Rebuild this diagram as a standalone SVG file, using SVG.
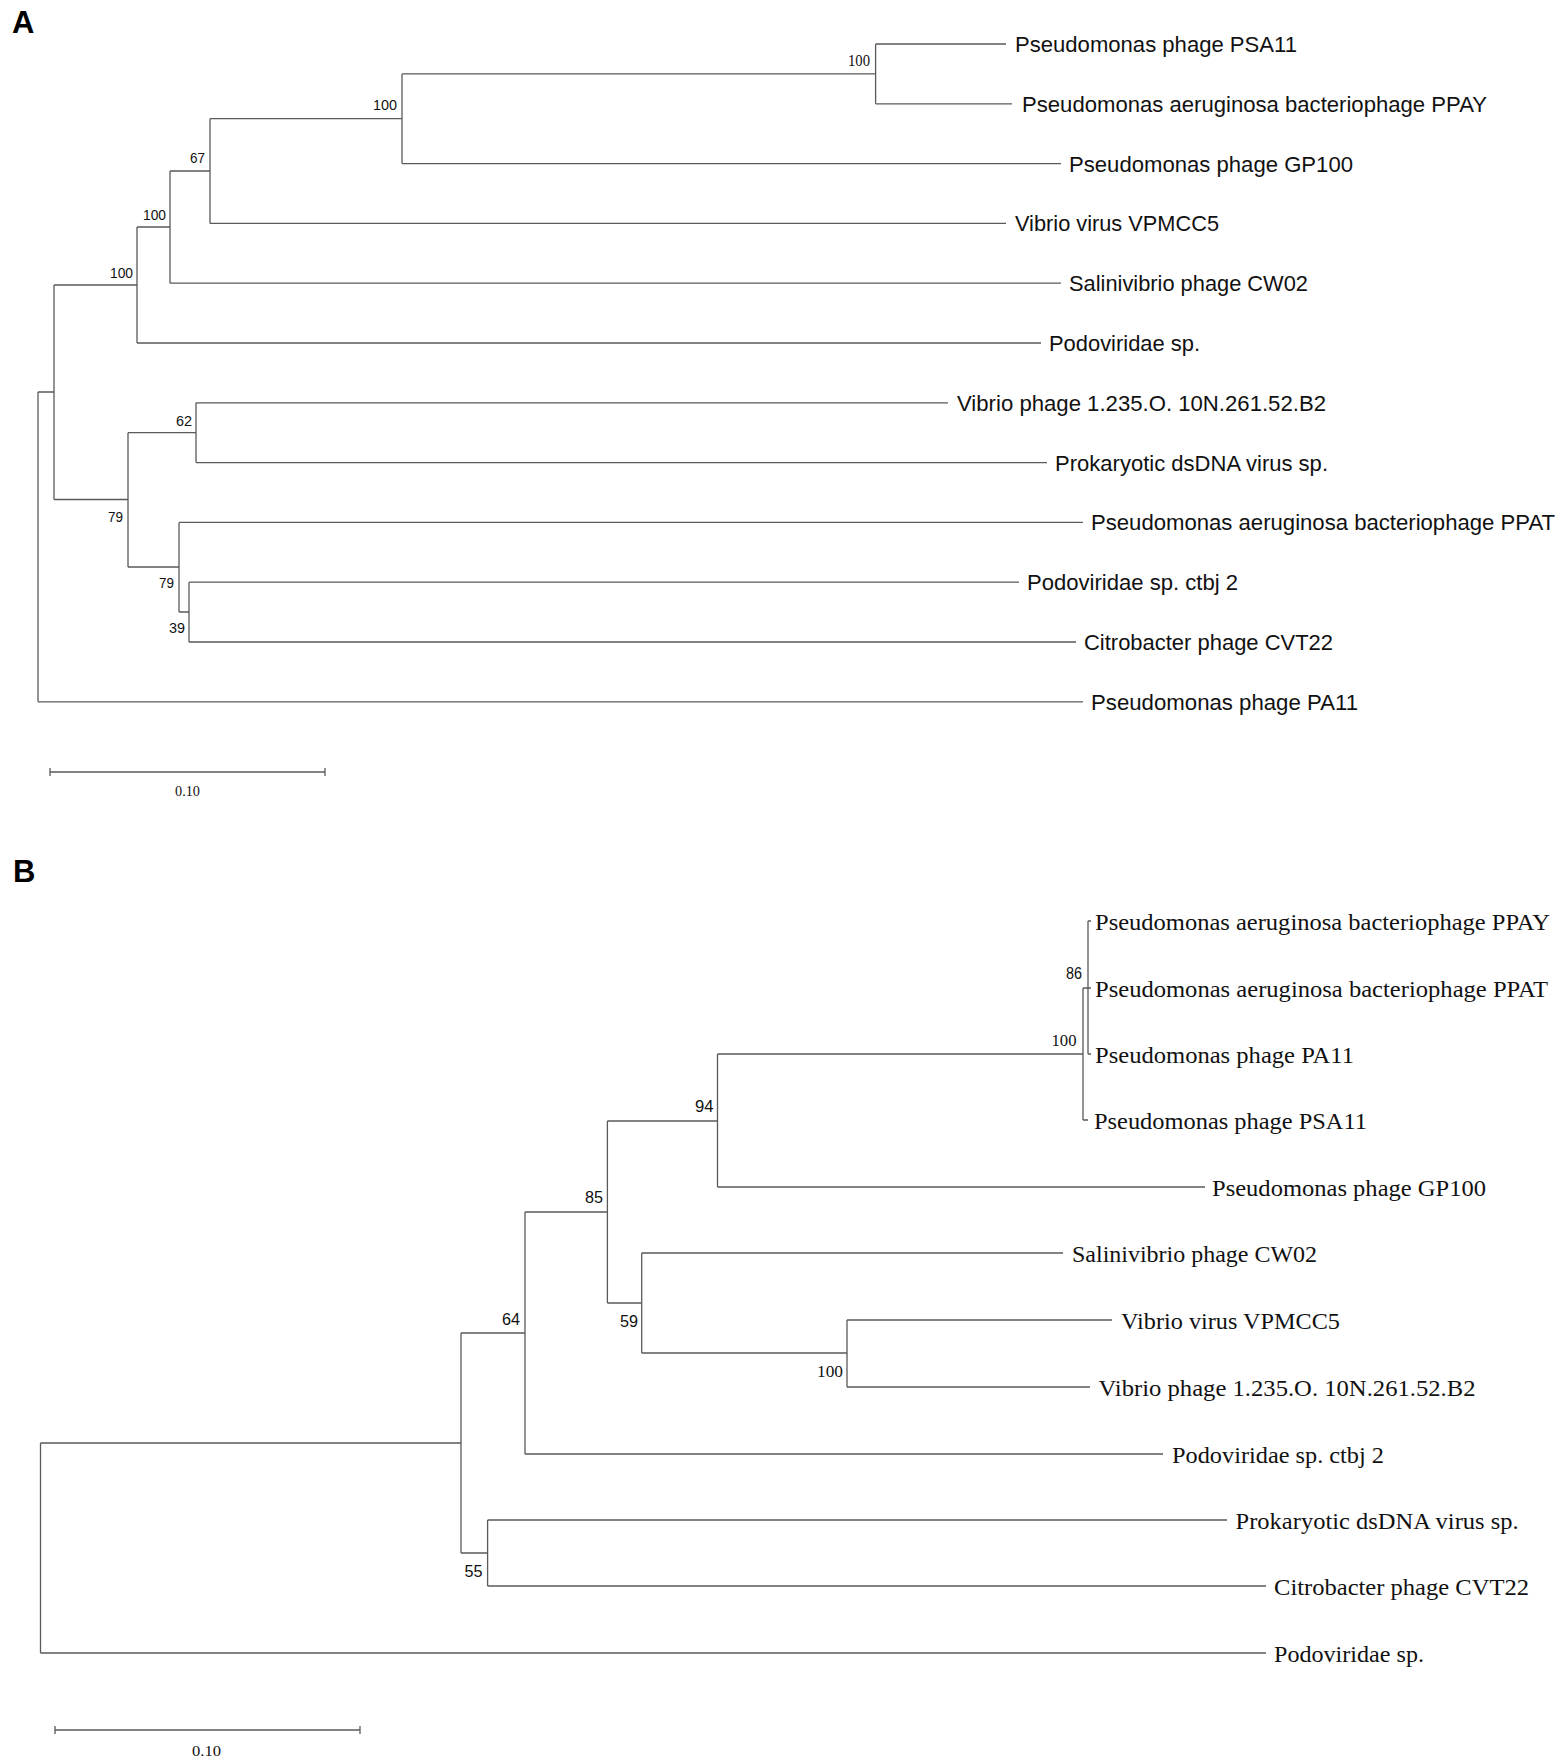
<svg xmlns="http://www.w3.org/2000/svg" width="1562" height="1762" viewBox="0 0 1562 1762">
<style>
.br{fill:none;stroke:#5a5a5a;stroke-width:1.3}
.la{font-family:"Liberation Sans",Arial,sans-serif;font-size:22px;fill:#111}
.lb{font-family:"Liberation Serif","Times New Roman",serif;font-size:23.5px;fill:#111}
.bs{font-family:"Liberation Sans",Arial,sans-serif;font-size:15px;fill:#111}
.bsb{font-family:"Liberation Sans",Arial,sans-serif;font-size:16px;fill:#111}
.bss{font-family:"Liberation Serif","Times New Roman",serif;font-size:16px;fill:#111}
.pan{font-family:"Liberation Sans",Arial,sans-serif;font-size:31px;font-weight:bold;fill:#000}
.sc{font-family:"Liberation Serif","Times New Roman",serif;font-size:15px;fill:#111}
</style>
<rect width="1562" height="1762" fill="#fff"/>
<text class="pan" x="12" y="33">A</text>
<text class="pan" x="13" y="882">B</text>

<g id="connectors">
<g id="treeA-branches" class="br">
<path d="M875.6,44V103.8M402,73.9V163.6M210,118.7V223.4M170,171V283.2M137,227V343M54,285V499.5M128,432.7V567M196,402.8V462.6M179,522.4V612M189,582.2V642M38,392V701.8"/>
<path d="M402,73.9H875.6M210,118.7H402M170,171H210M137,227H170M54,285H137M38,392H54M54,499.5H128M128,432.7H196M128,567H179M179,612H189"/>
<path d="M875.6,44H1006M875.6,103.8H1012M402,163.6H1061M210,223.4H1006M170,283.2H1061M137,343H1041M196,402.8H948M196,462.6H1047M179,522.4H1083M189,582.2H1019M189,642H1076M38,701.8H1083"/>
</g>
<g id="treeB-branches" class="br">
<path d="M1088,921V1054M1083,988V1120M717.5,1054V1187M607.4,1121V1303M641.7,1253V1353M847,1320V1387M525,1212V1454M487.6,1520V1586M461,1333V1553M40.5,1443V1653"/>
<path d="M1083,988H1088M717.5,1054H1083M607.4,1121H717.5M525,1212H607.4M607.4,1303H641.7M641.7,1353H847M461,1333H525M461,1553H487.6M40.5,1443H461"/>
<path d="M1088,921H1091M1088,988H1091M1088,1054H1091M1083,1120H1088M717.5,1187H1205M641.7,1253H1063M847,1320H1112M847,1387H1090M525,1454H1163M487.6,1520H1227M487.6,1586H1266M40.5,1653H1266"/>
</g>
<g id="scalebars" class="br">
<path d="M50,772H325M50,768V776M325,768V776"/>
<path d="M55,1730H360M55,1726V1734M360,1726V1734"/>
</g>
</g>

<g id="treeA-leaves">
<g id="a-psa11"><text class="la" x="1015" y="52" textLength="282" lengthAdjust="spacingAndGlyphs">Pseudomonas phage PSA11</text></g>
<g id="a-ppay"><text class="la" x="1022" y="111.8" textLength="465" lengthAdjust="spacingAndGlyphs">Pseudomonas aeruginosa bacteriophage PPAY</text></g>
<g id="a-gp100"><text class="la" x="1069" y="171.6" textLength="284" lengthAdjust="spacingAndGlyphs">Pseudomonas phage GP100</text></g>
<g id="a-vpmcc5"><text class="la" x="1015" y="231.4" textLength="204" lengthAdjust="spacingAndGlyphs">Vibrio virus VPMCC5</text></g>
<g id="a-cw02"><text class="la" x="1069" y="291.2" textLength="239" lengthAdjust="spacingAndGlyphs">Salinivibrio phage CW02</text></g>
<g id="a-podo"><text class="la" x="1049" y="351" textLength="151" lengthAdjust="spacingAndGlyphs">Podoviridae sp.</text></g>
<g id="a-vibrio"><text class="la" x="957" y="410.8" textLength="369" lengthAdjust="spacingAndGlyphs">Vibrio phage 1.235.O. 10N.261.52.B2</text></g>
<g id="a-prok"><text class="la" x="1055" y="470.6" textLength="273" lengthAdjust="spacingAndGlyphs">Prokaryotic dsDNA virus sp.</text></g>
<g id="a-ppat"><text class="la" x="1091" y="530.4" textLength="464" lengthAdjust="spacingAndGlyphs">Pseudomonas aeruginosa bacteriophage PPAT</text></g>
<g id="a-ctbj2"><text class="la" x="1027" y="590.2" textLength="211" lengthAdjust="spacingAndGlyphs">Podoviridae sp. ctbj 2</text></g>
<g id="a-cvt22"><text class="la" x="1084" y="650" textLength="249" lengthAdjust="spacingAndGlyphs">Citrobacter phage CVT22</text></g>
<g id="a-pa11"><text class="la" x="1091" y="709.8" textLength="267" lengthAdjust="spacingAndGlyphs">Pseudomonas phage PA11</text></g>
</g>

<g id="treeA-nodes">
<g id="a-n1"><text class="bss" x="848" y="66" textLength="22" lengthAdjust="spacingAndGlyphs">100</text></g>
<g id="a-n2"><text class="bs" x="373" y="110" textLength="24" lengthAdjust="spacingAndGlyphs">100</text></g>
<g id="a-n3"><text class="bs" x="190" y="163" textLength="15" lengthAdjust="spacingAndGlyphs">67</text></g>
<g id="a-n4"><text class="bs" x="143" y="220" textLength="23" lengthAdjust="spacingAndGlyphs">100</text></g>
<g id="a-n5"><text class="bs" x="110" y="278" textLength="23" lengthAdjust="spacingAndGlyphs">100</text></g>
<g id="a-n6"><text class="bs" x="176" y="426" textLength="16" lengthAdjust="spacingAndGlyphs">62</text></g>
<g id="a-n7"><text class="bs" x="108" y="522" textLength="15" lengthAdjust="spacingAndGlyphs">79</text></g>
<g id="a-n8"><text class="bs" x="159" y="588" textLength="15" lengthAdjust="spacingAndGlyphs">79</text></g>
<g id="a-n9"><text class="bs" x="169" y="633" textLength="16" lengthAdjust="spacingAndGlyphs">39</text></g>
</g>
<g id="a-scale"><text class="sc" x="175" y="796" textLength="25" lengthAdjust="spacingAndGlyphs">0.10</text></g>

<g id="treeB-leaves">
<g id="b-ppay"><text class="lb" x="1095" y="929.5" textLength="455" lengthAdjust="spacingAndGlyphs">Pseudomonas aeruginosa bacteriophage PPAY</text></g>
<g id="b-ppat"><text class="lb" x="1095" y="996.5" textLength="453" lengthAdjust="spacingAndGlyphs">Pseudomonas aeruginosa bacteriophage PPAT</text></g>
<g id="b-pa11"><text class="lb" x="1095" y="1062.5" textLength="259" lengthAdjust="spacingAndGlyphs">Pseudomonas phage PA11</text></g>
<g id="b-psa11"><text class="lb" x="1094" y="1128.5" textLength="273" lengthAdjust="spacingAndGlyphs">Pseudomonas phage PSA11</text></g>
<g id="b-gp100"><text class="lb" x="1212" y="1195.5" textLength="274" lengthAdjust="spacingAndGlyphs">Pseudomonas phage GP100</text></g>
<g id="b-cw02"><text class="lb" x="1072" y="1261.5" textLength="245" lengthAdjust="spacingAndGlyphs">Salinivibrio phage CW02</text></g>
<g id="b-vpmcc5"><text class="lb" x="1121" y="1328.5" textLength="219" lengthAdjust="spacingAndGlyphs">Vibrio virus VPMCC5</text></g>
<g id="b-vibrio"><text class="lb" x="1098.5" y="1395.5" textLength="377" lengthAdjust="spacingAndGlyphs">Vibrio phage 1.235.O. 10N.261.52.B2</text></g>
<g id="b-ctbj2"><text class="lb" x="1172" y="1462.5" textLength="212" lengthAdjust="spacingAndGlyphs">Podoviridae sp. ctbj 2</text></g>
<g id="b-prok"><text class="lb" x="1235.6" y="1528.5" textLength="283" lengthAdjust="spacingAndGlyphs">Prokaryotic dsDNA virus sp.</text></g>
<g id="b-cvt22"><text class="lb" x="1274" y="1594.5" textLength="255" lengthAdjust="spacingAndGlyphs">Citrobacter phage CVT22</text></g>
<g id="b-podo"><text class="lb" x="1274" y="1661.5" textLength="150" lengthAdjust="spacingAndGlyphs">Podoviridae sp.</text></g>
</g>

<g id="treeB-nodes">
<g id="b-n86"><text class="bsb" x="1066" y="979" textLength="16" lengthAdjust="spacingAndGlyphs">86</text></g>
<g id="b-n100a"><text class="bss" x="1051.5" y="1046" textLength="25" lengthAdjust="spacingAndGlyphs">100</text></g>
<g id="b-n94"><text class="bsb" x="695" y="1112" textLength="18.5" lengthAdjust="spacingAndGlyphs">94</text></g>
<g id="b-n85"><text class="bsb" x="585" y="1203" textLength="18" lengthAdjust="spacingAndGlyphs">85</text></g>
<g id="b-n59"><text class="bsb" x="620" y="1327" textLength="18" lengthAdjust="spacingAndGlyphs">59</text></g>
<g id="b-n64"><text class="bsb" x="502" y="1325" textLength="18" lengthAdjust="spacingAndGlyphs">64</text></g>
<g id="b-n100b"><text class="bss" x="817" y="1377" textLength="26" lengthAdjust="spacingAndGlyphs">100</text></g>
<g id="b-n55"><text class="bsb" x="464.5" y="1577" textLength="18" lengthAdjust="spacingAndGlyphs">55</text></g>
</g>
<g id="b-scale"><text class="sc" x="192" y="1756" textLength="29" lengthAdjust="spacingAndGlyphs">0.10</text></g>
</svg>
